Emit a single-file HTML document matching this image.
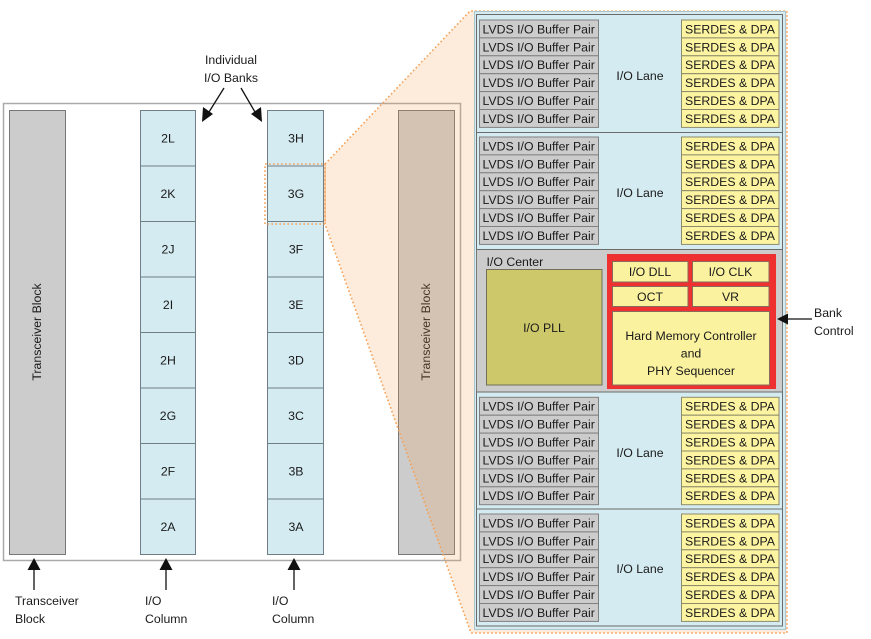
<!DOCTYPE html>
<html><head><meta charset="utf-8"><style>
html,body{margin:0;padding:0;background:#fff;}
svg{display:block;}
text{font-family:"Liberation Sans",Arial,sans-serif;font-size:12.3px;fill:#1a1a1a;}
</style></head><body>
<svg width="871" height="639" viewBox="0 0 871 639" xmlns="http://www.w3.org/2000/svg">
<!-- outer frame -->
<rect x="3.5" y="103.5" width="457" height="457" fill="#fff" stroke="#aaaaaa" stroke-width="1.5"/>
<!-- transceiver blocks -->
<rect x="9.5" y="110.5" width="56" height="444" fill="#cccccc" stroke="#777"/>
<rect x="398.5" y="110.5" width="56" height="444" fill="#cccccc" stroke="#777"/>
<text transform="translate(41,332) rotate(-90)" text-anchor="middle">Transceiver Block</text>
<text transform="translate(430,332) rotate(-90)" text-anchor="middle">Transceiver Block</text>
<!-- columns -->
<g stroke="#6f7f85" fill="#d4ebf2">
<rect x="140.5" y="110.5" width="55" height="55.5"/>
<rect x="140.5" y="166" width="55" height="55.5"/>
<rect x="140.5" y="221.5" width="55" height="55.5"/>
<rect x="140.5" y="277" width="55" height="55.5"/>
<rect x="140.5" y="332.5" width="55" height="55.5"/>
<rect x="140.5" y="388" width="55" height="55.5"/>
<rect x="140.5" y="443.5" width="55" height="55.5"/>
<rect x="140.5" y="499" width="55" height="55.5"/>
<rect x="267.5" y="110.5" width="56" height="55.5"/>
<rect x="267.5" y="166" width="56" height="55.5"/>
<rect x="267.5" y="221.5" width="56" height="55.5"/>
<rect x="267.5" y="277" width="56" height="55.5"/>
<rect x="267.5" y="332.5" width="56" height="55.5"/>
<rect x="267.5" y="388" width="56" height="55.5"/>
<rect x="267.5" y="443.5" width="56" height="55.5"/>
<rect x="267.5" y="499" width="56" height="55.5"/>
</g>
<g text-anchor="middle">
<text x="168" y="142.5">2L</text>
<text x="168" y="198">2K</text>
<text x="168" y="253.5">2J</text>
<text x="168" y="309">2I</text>
<text x="168" y="364.5">2H</text>
<text x="168" y="420">2G</text>
<text x="168" y="475.5">2F</text>
<text x="168" y="531">2A</text>
<text x="296" y="142.5">3H</text>
<text x="296" y="198">3G</text>
<text x="296" y="253.5">3F</text>
<text x="296" y="309">3E</text>
<text x="296" y="364.5">3D</text>
<text x="296" y="420">3C</text>
<text x="296" y="475.5">3B</text>
<text x="296" y="531">3A</text>
</g>
<!-- orange zoom polygon -->
<path d="M325,164 L470,11 L787,11 L787,633 L471,633 L325,224 Z" fill="rgba(245,160,80,0.2)" stroke="#f5a055" stroke-width="1.6" stroke-dasharray="1.6,2.4"/>
<rect x="265" y="164" width="60" height="60" fill="none" stroke="#f5a055" stroke-width="1.6" stroke-dasharray="1.6,2.4"/>
<!-- top label and arrows -->
<text x="231" y="64" text-anchor="middle">Individual</text>
<text x="231" y="82" text-anchor="middle">I/O Banks</text>
<g stroke="#111" stroke-width="1.3">
<line x1="224" y1="88" x2="209" y2="112"/>
<line x1="241" y1="88" x2="255" y2="112"/>
<line x1="34" y1="568" x2="34" y2="590"/>
<line x1="166" y1="568" x2="166" y2="590"/>
<line x1="294" y1="568" x2="294" y2="590"/>
</g>
<g fill="#111">
<polygon points="202,122 203,107 213,114"/>
<polygon points="262,122 251,114 261,107"/>
<polygon points="34,558 27.5,570 40.5,570"/>
<polygon points="166,558 159.5,570 172.5,570"/>
<polygon points="294,558 287.5,570 300.5,570"/>
</g>
<text x="15" y="605">Transceiver</text>
<text x="15" y="623">Block</text>
<text x="145" y="605">I/O</text>
<text x="145" y="623">Column</text>
<text x="272" y="605">I/O</text>
<text x="272" y="623">Column</text>
<text x="814" y="317">Bank</text>
<text x="814" y="335">Control</text>
<!-- right panel -->
<rect x="474.5" y="11.5" width="311" height="618" fill="#d4ebf2" stroke="#a9c6cf"/>
<rect x="476.5" y="249.5" width="306" height="142.5" fill="#cccccc" stroke="#777"/>
<g stroke="#6b6b6b" fill="#d4ebf2">
<rect x="476.5" y="14.5" width="306" height="118"/>
<rect x="476.5" y="132.5" width="306" height="117"/>
<rect x="476.5" y="392" width="306" height="117"/>
<rect x="476.5" y="509" width="306" height="117"/>
</g>
<g stroke="#808080" fill="#cccccc">
<rect x="479.5" y="20" width="119" height="17.9"/><rect x="479.5" y="37.9" width="119" height="17.9"/><rect x="479.5" y="55.8" width="119" height="17.9"/><rect x="479.5" y="73.7" width="119" height="17.9"/><rect x="479.5" y="91.6" width="119" height="17.9"/><rect x="479.5" y="109.5" width="119" height="17.9"/>
<rect x="479.5" y="137" width="119" height="17.9"/><rect x="479.5" y="154.9" width="119" height="17.9"/><rect x="479.5" y="172.8" width="119" height="17.9"/><rect x="479.5" y="190.7" width="119" height="17.9"/><rect x="479.5" y="208.6" width="119" height="17.9"/><rect x="479.5" y="226.5" width="119" height="17.9"/>
<rect x="479.5" y="397.3" width="119" height="17.9"/><rect x="479.5" y="415.2" width="119" height="17.9"/><rect x="479.5" y="433.1" width="119" height="17.9"/><rect x="479.5" y="451" width="119" height="17.9"/><rect x="479.5" y="468.9" width="119" height="17.9"/><rect x="479.5" y="486.8" width="119" height="17.9"/>
<rect x="479.5" y="514" width="119" height="17.9"/><rect x="479.5" y="531.9" width="119" height="17.9"/><rect x="479.5" y="549.8" width="119" height="17.9"/><rect x="479.5" y="567.7" width="119" height="17.9"/><rect x="479.5" y="585.6" width="119" height="17.9"/><rect x="479.5" y="603.5" width="119" height="17.9"/>
</g>
<g stroke="#8c8a6a" fill="#fdf4a2">
<rect x="681.5" y="20" width="97.5" height="17.9"/><rect x="681.5" y="37.9" width="97.5" height="17.9"/><rect x="681.5" y="55.8" width="97.5" height="17.9"/><rect x="681.5" y="73.7" width="97.5" height="17.9"/><rect x="681.5" y="91.6" width="97.5" height="17.9"/><rect x="681.5" y="109.5" width="97.5" height="17.9"/>
<rect x="681.5" y="137" width="97.5" height="17.9"/><rect x="681.5" y="154.9" width="97.5" height="17.9"/><rect x="681.5" y="172.8" width="97.5" height="17.9"/><rect x="681.5" y="190.7" width="97.5" height="17.9"/><rect x="681.5" y="208.6" width="97.5" height="17.9"/><rect x="681.5" y="226.5" width="97.5" height="17.9"/>
<rect x="681.5" y="397.3" width="97.5" height="17.9"/><rect x="681.5" y="415.2" width="97.5" height="17.9"/><rect x="681.5" y="433.1" width="97.5" height="17.9"/><rect x="681.5" y="451" width="97.5" height="17.9"/><rect x="681.5" y="468.9" width="97.5" height="17.9"/><rect x="681.5" y="486.8" width="97.5" height="17.9"/>
<rect x="681.5" y="514" width="97.5" height="17.9"/><rect x="681.5" y="531.9" width="97.5" height="17.9"/><rect x="681.5" y="549.8" width="97.5" height="17.9"/><rect x="681.5" y="567.7" width="97.5" height="17.9"/><rect x="681.5" y="585.6" width="97.5" height="17.9"/><rect x="681.5" y="603.5" width="97.5" height="17.9"/>
</g>
<g>
<text x="482.5" y="33.4">LVDS I/O Buffer Pair</text><text x="482.5" y="51.3">LVDS I/O Buffer Pair</text><text x="482.5" y="69.2">LVDS I/O Buffer Pair</text><text x="482.5" y="87.1">LVDS I/O Buffer Pair</text><text x="482.5" y="105">LVDS I/O Buffer Pair</text><text x="482.5" y="122.9">LVDS I/O Buffer Pair</text>
<text x="482.5" y="150.4">LVDS I/O Buffer Pair</text><text x="482.5" y="168.3">LVDS I/O Buffer Pair</text><text x="482.5" y="186.2">LVDS I/O Buffer Pair</text><text x="482.5" y="204.1">LVDS I/O Buffer Pair</text><text x="482.5" y="222">LVDS I/O Buffer Pair</text><text x="482.5" y="239.9">LVDS I/O Buffer Pair</text>
<text x="482.5" y="410.7">LVDS I/O Buffer Pair</text><text x="482.5" y="428.6">LVDS I/O Buffer Pair</text><text x="482.5" y="446.5">LVDS I/O Buffer Pair</text><text x="482.5" y="464.4">LVDS I/O Buffer Pair</text><text x="482.5" y="482.3">LVDS I/O Buffer Pair</text><text x="482.5" y="500.2">LVDS I/O Buffer Pair</text>
<text x="482.5" y="527.4">LVDS I/O Buffer Pair</text><text x="482.5" y="545.3">LVDS I/O Buffer Pair</text><text x="482.5" y="563.2">LVDS I/O Buffer Pair</text><text x="482.5" y="581.1">LVDS I/O Buffer Pair</text><text x="482.5" y="599">LVDS I/O Buffer Pair</text><text x="482.5" y="616.9">LVDS I/O Buffer Pair</text>
</g>
<g text-anchor="middle">
<text x="730" y="33.4">SERDES &amp; DPA</text><text x="730" y="51.3">SERDES &amp; DPA</text><text x="730" y="69.2">SERDES &amp; DPA</text><text x="730" y="87.1">SERDES &amp; DPA</text><text x="730" y="105">SERDES &amp; DPA</text><text x="730" y="122.9">SERDES &amp; DPA</text>
<text x="730" y="150.4">SERDES &amp; DPA</text><text x="730" y="168.3">SERDES &amp; DPA</text><text x="730" y="186.2">SERDES &amp; DPA</text><text x="730" y="204.1">SERDES &amp; DPA</text><text x="730" y="222">SERDES &amp; DPA</text><text x="730" y="239.9">SERDES &amp; DPA</text>
<text x="730" y="410.7">SERDES &amp; DPA</text><text x="730" y="428.6">SERDES &amp; DPA</text><text x="730" y="446.5">SERDES &amp; DPA</text><text x="730" y="464.4">SERDES &amp; DPA</text><text x="730" y="482.3">SERDES &amp; DPA</text><text x="730" y="500.2">SERDES &amp; DPA</text>
<text x="730" y="527.4">SERDES &amp; DPA</text><text x="730" y="545.3">SERDES &amp; DPA</text><text x="730" y="563.2">SERDES &amp; DPA</text><text x="730" y="581.1">SERDES &amp; DPA</text><text x="730" y="599">SERDES &amp; DPA</text><text x="730" y="616.9">SERDES &amp; DPA</text>
<text x="640" y="80">I/O Lane</text>
<text x="640" y="197">I/O Lane</text>
<text x="640" y="457">I/O Lane</text>
<text x="640" y="573">I/O Lane</text>
</g>
<!-- I/O center -->
<text x="486.5" y="266">I/O Center</text>
<rect x="486.5" y="269.5" width="115.5" height="115.5" fill="#cdc86a" stroke="#6f6f5a"/>
<text x="544" y="332" text-anchor="middle">I/O PLL</text>
<rect x="607" y="254" width="169" height="135" fill="#ee3030"/>
<g stroke="#8a6a5a" fill="#fbf29f">
<rect x="612.5" y="261.5" width="75.5" height="20.5"/>
<rect x="692.5" y="261.5" width="76.5" height="20.5"/>
<rect x="612.5" y="286.5" width="75.5" height="20"/>
<rect x="692.5" y="286.5" width="76.5" height="20"/>
<rect x="612.5" y="311.5" width="157" height="73.5"/>
</g>
<g text-anchor="middle">
<text x="650" y="276">I/O DLL</text>
<text x="730.5" y="276">I/O CLK</text>
<text x="650" y="301">OCT</text>
<text x="730.5" y="301">VR</text>
<text x="691" y="340">Hard Memory Controller</text>
<text x="691" y="357.5">and</text>
<text x="691" y="375">PHY Sequencer</text>
</g>
<!-- Bank Control arrow (drawn on top) -->
<line x1="786" y1="319" x2="812" y2="319" stroke="#111" stroke-width="1.3"/>
<polygon points="777,319 788,313.5 788,324.5" fill="#111"/>
</svg>
</body></html>
